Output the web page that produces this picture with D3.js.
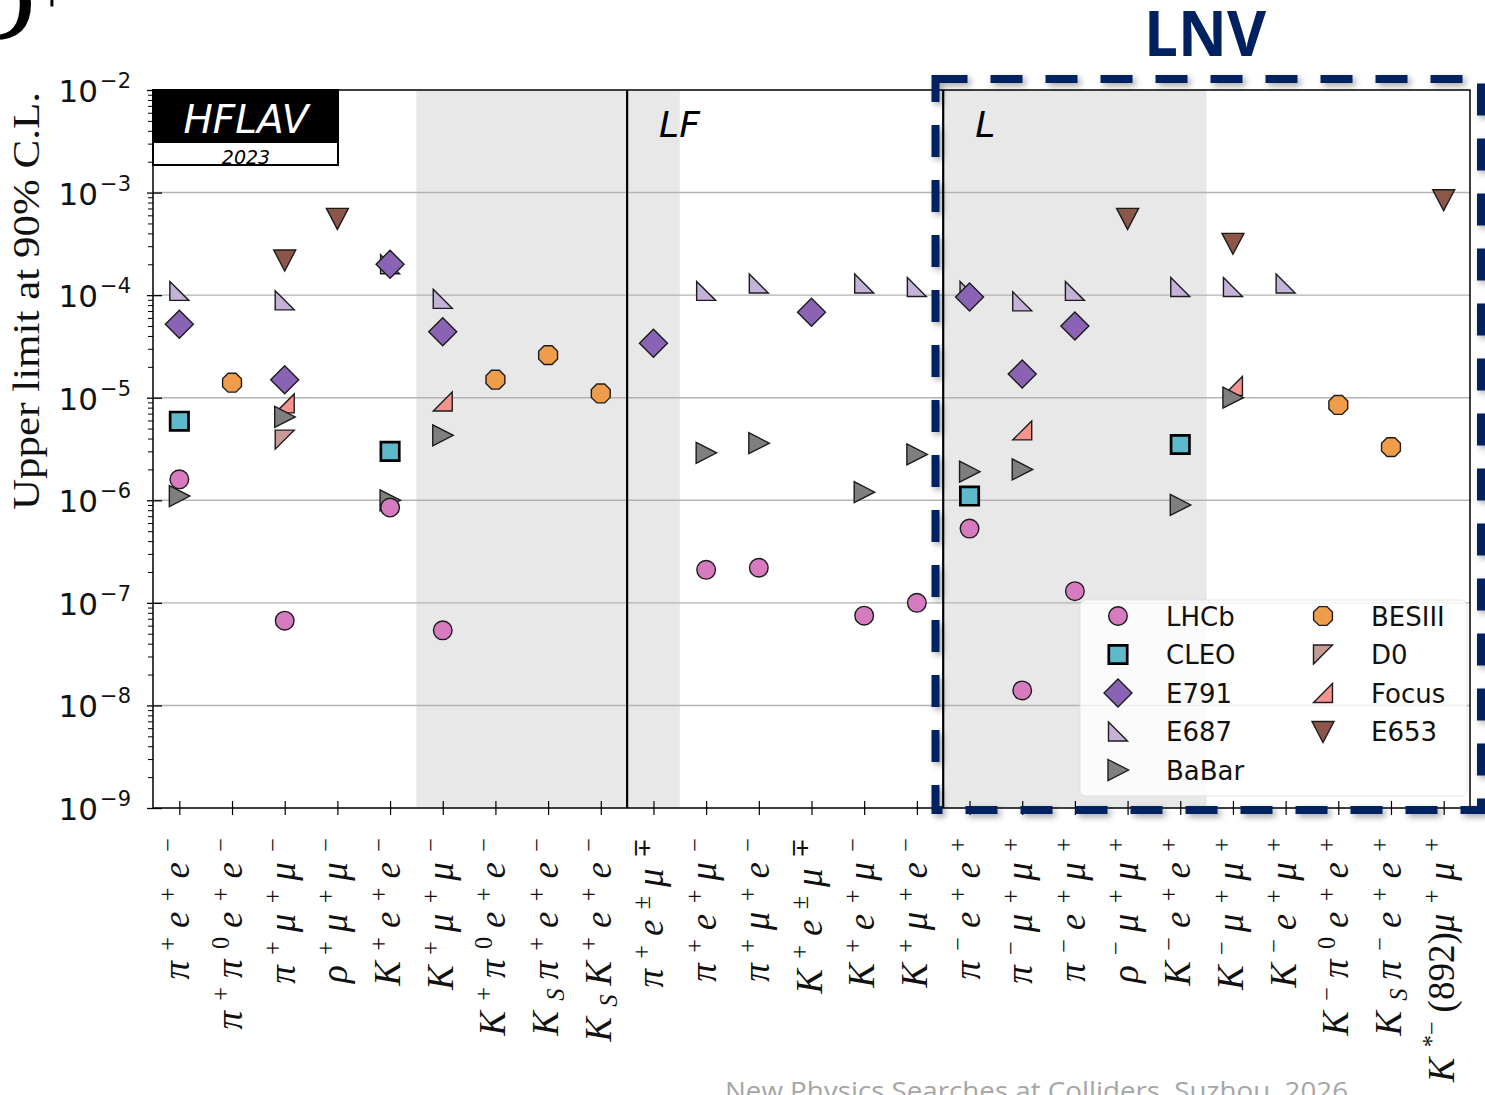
<!DOCTYPE html>
<html>
<head>
<meta charset="utf-8">
<script src="https://cdn.jsdelivr.net/npm/d3@7"></script>
<style>
  body { margin: 0; background: #fff; }
  svg { display: block; }
</style>
</head>
<body>
<script>
// Decay modes (x axis). ^{..} = superscript, _{..} = subscript.
const categories = [
  "π^{+}e^{+}e^{−}", "π^{+}π^{0}e^{+}e^{−}", "π^{+}μ^{+}μ^{−}", "ρ^{+}μ^{+}μ^{−}",
  "K^{+}e^{+}e^{−}", "K^{+}μ^{+}μ^{−}", "K^{+}π^{0}e^{+}e^{−}", "K_{S}π^{+}e^{+}e^{−}",
  "K_{S}K^{+}e^{+}e^{−}", "π^{+}e^{±}μ^{∓}", "π^{+}e^{+}μ^{−}", "π^{+}μ^{+}e^{−}",
  "K^{+}e^{±}μ^{∓}", "K^{+}e^{+}μ^{−}", "K^{+}μ^{+}e^{−}", "π^{−}e^{+}e^{+}",
  "π^{−}μ^{+}μ^{+}", "π^{−}e^{+}μ^{+}", "ρ^{−}μ^{+}μ^{+}", "K^{−}e^{+}e^{+}",
  "K^{−}μ^{+}μ^{+}", "K^{−}e^{+}μ^{+}", "K^{−}π^{0}e^{+}e^{+}", "K_{S}π^{−}e^{+}e^{+}",
  "K^{*−}(892)μ^{+}μ^{+}"
];

// Upper limits at 90% C.L., one entry per decay mode (null = no measurement)
//            0       1       2       3       4       5       6       7       8       9       10      11      12      13      14      15      16      17      18      19      20      21      22      23      24
const lhcb  = [1.6e-6, null,   6.7e-8, null,   8.5e-7, 5.4e-8, null,   null,   null,   null,   2.1e-7, 2.2e-7, null,   7.5e-8, 1.0e-7, 5.3e-7, 1.4e-8, 1.3e-7, null,   null,   null,   null,   null,   null,   null];
const cleo  = [5.9e-6, null,   null,   null,   3.0e-6, null,   null,   null,   null,   null,   null,   null,   null,   null,   null,   1.1e-6, null,   null,   null,   3.5e-6, null,   null,   null,   null,   null];
const e791  = [5.2e-5, null,   1.5e-5, null,   2.0e-4, 4.4e-5, null,   null,   null,   3.4e-5, null,   null,   6.8e-5, null,   null,   9.6e-5, 1.7e-5, 5.0e-5, null,   null,   null,   null,   null,   null,   null];
const e687  = [1.1e-4, null,   8.9e-5, null,   2.0e-4, 9.2e-5, null,   null,   null,   null,   1.1e-4, 1.3e-4, null,   1.3e-4, 1.2e-4, 1.1e-4, 8.7e-5, 1.1e-4, null,   1.2e-4, 1.2e-4, 1.3e-4, null,   null,   null];
const babar = [1.1e-6, null,   6.5e-6, null,   1.0e-6, 4.3e-6, null,   null,   null,   null,   2.9e-6, 3.6e-6, null,   1.2e-6, 2.8e-6, 1.9e-6, 2.0e-6, null,   null,   9.0e-7, 1.0e-5, null,   null,   null,   null];
const besiii= [null,   1.4e-5, null,   null,   null,   null,   1.5e-5, 2.6e-5, 1.1e-5, null,   null,   null,   null,   null,   null,   null,   null,   null,   null,   null,   null,   null,   8.5e-6, 3.3e-6, null];
const d0    = [null,   null,   3.9e-6, null,   null,   null,   null,   null,   null,   null,   null,   null,   null,   null,   null,   null,   null,   null,   null,   null,   null,   null,   null,   null,   null];
const focus = [null,   null,   8.8e-6, null,   null,   9.2e-6, null,   null,   null,   null,   null,   null,   null,   null,   null,   null,   4.8e-6, null,   null,   null,   1.3e-5, null,   null,   null,   null];
const e653  = [null,   null,   2.2e-4, 5.6e-4, null,   null,   null,   null,   null,   null,   null,   null,   null,   null,   null,   null,   null,   null,   5.6e-4, null,   3.2e-4, null,   null,   null,   8.5e-4];

// Experiments in legend order (two columns: first five, then four)
const experiments = [
  { name: "LHCb",   values: lhcb,   color: "#d67bbf", shape: "circle"  },
  { name: "CLEO",   values: cleo,   color: "#5eb9cb", shape: "square"  },
  { name: "E791",   values: e791,   color: "#8a63b5", shape: "diamond" },
  { name: "E687",   values: e687,   color: "#c4b2d8", shape: "triBL"   },
  { name: "BaBar",  values: babar,  color: "#7f7f7f", shape: "right"   },
  { name: "BESIII", values: besiii, color: "#ef9d4b", shape: "octagon" },
  { name: "D0",     values: d0,     color: "#c49c94", shape: "triTL"   },
  { name: "Focus",  values: focus,  color: "#f3958e", shape: "triBR"   },
  { name: "E653",   values: e653,   color: "#8c564b", shape: "down"    }
];

const yMajor = [1e-9, 1e-8, 1e-7, 1e-6, 1e-5, 1e-4, 1e-3, 1e-2];
const yMajorExp = [-9, -8, -7, -6, -5, -4, -3, -2];

// Shaded groups of decay modes and section boundaries
const shadedGroups = [[5, 8], [9, 9], [15, 19]];
const sectionStarts = [9, 15];
const sectionNames = ["LF", "L"];

const W = 1485, H = 1095;
const M = { left: 153, right: 1470, top: 90, bottom: 808 };

const svg = d3.select("body").append("svg").attr("width", W).attr("height", H);
const defs = svg.append("defs");
const shadow = defs.append("filter").attr("id", "shadow")
  .attr("x", "-10%").attr("y", "-10%").attr("width", "120%").attr("height", "120%");
shadow.append("feDropShadow").attr("dx", 3).attr("dy", 3).attr("stdDeviation", 3)
  .attr("flood-color", "#000").attr("flood-opacity", 0.35);

const x = d3.scalePoint().domain(d3.range(categories.length))
  .range([M.left, M.right]).padding(0.5);
const step = x.step();
const y = d3.scaleLog().domain([1e-9, 1e-2]).range([M.bottom, M.top]);

// ---- background shading
svg.append("g").selectAll("rect").data(shadedGroups).join("rect")
  .attr("x", d => x(d[0]) - step / 2)
  .attr("width", d => (d[1] - d[0] + 1) * step)
  .attr("y", M.top).attr("height", M.bottom - M.top)
  .attr("fill", "#e8e8e8");

// ---- horizontal grid
svg.append("g").selectAll("line").data(yMajor.slice(1, -1)).join("line")
  .attr("x1", M.left).attr("x2", M.right)
  .attr("y1", d => y(d)).attr("y2", d => y(d))
  .attr("stroke", "#b3b3b3").attr("stroke-width", 1.4);

// ---- section dividers
svg.append("g").selectAll("line").data(sectionStarts).join("line")
  .attr("x1", d => x(d) - step / 2).attr("x2", d => x(d) - step / 2)
  .attr("y1", M.top).attr("y2", M.bottom)
  .attr("stroke", "#000").attr("stroke-width", 2.2);

svg.append("g").selectAll("text").data(sectionStarts).join("text")
  .attr("x", d => x(d) - step / 2 + 32).attr("y", 137)
  .attr("font-family", "DejaVu Sans").attr("font-style", "italic")
  .attr("font-size", 36).text((d, i) => sectionNames[i]);

// ---- y axis
const minorTicks = [];
for (let e = -9; e < -2; e++) for (let k = 2; k <= 9; k++) minorTicks.push(k * Math.pow(10, e));

const yAxisMinor = svg.append("g").attr("transform", `translate(${M.left},0)`)
  .call(d3.axisLeft(y).tickValues(minorTicks).tickSize(5).tickFormat(() => ""));
yAxisMinor.select(".domain").remove();
yAxisMinor.selectAll("line").attr("stroke", "#000").attr("stroke-width", 1);

const yAxisMajor = svg.append("g").attr("transform", `translate(${M.left},0)`)
  .call(d3.axisLeft(y).tickValues(yMajor).tickSize(6).tickFormat(() => ""));
yAxisMajor.select(".domain").remove();
yAxisMajor.selectAll("line").attr("x1", 9).attr("stroke", "#000").attr("stroke-width", 1.3);

const yLabels = svg.append("g").selectAll("text").data(yMajor).join("text")
  .attr("x", 131).attr("y", d => y(d) + 12)
  .attr("text-anchor", "end")
  .attr("font-family", "DejaVu Sans").attr("font-size", 31).attr("fill", "#111");
yLabels.append("tspan").text("10");
yLabels.append("tspan").attr("dx", 2).attr("dy", -14).attr("font-size", 21)
  .text((d, i) => "−" + Math.abs(yMajorExp[i]));

// ---- x axis ticks
const xAxis = svg.append("g").attr("transform", `translate(0,${M.bottom})`)
  .call(d3.axisBottom(x).tickSize(7).tickFormat(() => ""));
xAxis.select(".domain").remove();
xAxis.selectAll("line").attr("y1", -7).attr("stroke", "#000").attr("stroke-width", 1.2);

// math-style label: base glyphs, superscripts and subscripts as tspans
function parseMarkup(s) {
  const out = [];
  let i = 0;
  while (i < s.length) {
    const c = s[i];
    if ((c === "^" || c === "_") && s[i + 1] === "{") {
      const j = s.indexOf("}", i);
      out.push({ t: s.slice(i + 2, j), mode: c === "^" ? "sup" : "sub" });
      i = j + 1;
    } else {
      out.push({ t: c, mode: "base" });
      i++;
    }
  }
  return out;
}
const isLetter = ch => /[A-Za-zα-ωπρμ]/.test(ch);

function drawMathLabel(sel, markup, F) {
  const toks = parseMarkup(markup);
  let cur = 0, prev = "base";
  toks.forEach(tok => {
    const target = tok.mode === "sup" ? -0.36 * F : tok.mode === "sub" ? 0.16 * F : 0;
    let dx = 0;
    if (tok.mode !== "base" && prev === "base") dx = 0.28 * F;
    if (tok.mode === "base" && prev !== "base") dx = 0.24 * F;
    if (tok.mode !== "base" && prev !== "base") dx = 0.06 * F;
    sel.append("tspan")
      .attr("dy", target - cur).attr("dx", dx)
      .attr("font-size", tok.mode === "base" ? F : 0.66 * F)
      .attr("font-style", (isLetter(tok.t) && tok.t.length === 1) ? "italic" : "normal")
      .text(tok.t);
    cur = target;
    prev = tok.mode;
  });
}

const xLabels = svg.append("g").selectAll("text").data(categories).join("text")
  .attr("transform", (d, i) => `translate(${x(i) + 10},838) rotate(-90)`)
  .attr("text-anchor", "end")
  .attr("font-family", "Liberation Serif").attr("fill", "#111");
xLabels.each(function (d) { drawMathLabel(d3.select(this), d, 37); });

// ---- markers
function markerPath(shape) {
  switch (shape) {
    case "circle":  return "M9.3,0A9.3,9.3 0 1,1 -9.3,0A9.3,9.3 0 1,1 9.3,0Z";
    case "square":  return "M-9.2,-9.2H9.2V9.2H-9.2Z";
    case "diamond": return "M0,-14L14,0L0,14L-14,0Z";
    case "triBL":   return "M-9.5,-9.5L9.5,9.5L-9.5,9.5Z";
    case "triTL":   return "M-9.5,-9.5L9.5,-9.5L-9.5,9.5Z";
    case "triBR":   return "M9.5,-9.5L9.5,9.5L-9.5,9.5Z";
    case "right":   return "M-10,-10.5L10.5,0L-10,10.5Z";
    case "down":    return "M-11,-10L11,-10L0,11Z";
    case "octagon": {
      const r = 10.2;
      const pts = d3.range(8).map(k => {
        const a = Math.PI / 8 + k * Math.PI / 4;
        return [r * Math.cos(a), r * Math.sin(a)];
      });
      return "M" + pts.map(p => p.join(",")).join("L") + "Z";
    }
  }
}
function styleMarker(sel, exp) {
  sel.attr("d", markerPath(exp.shape))
    .attr("fill", exp.color)
    .attr("stroke", exp.shape === "square" ? "#000" : "#1c1c1c")
    .attr("stroke-width", exp.shape === "square" ? 2.7 : 1.4)
    .attr("stroke-linejoin", "miter");
}

const markerLayer = svg.append("g");
experiments.slice().reverse().forEach(exp => {
  const pts = exp.values.map((v, i) => ({ i, v })).filter(d => d.v != null);
  markerLayer.append("g").selectAll("path").data(pts).join("path")
    .attr("transform", d => `translate(${x(d.i)},${y(d.v)})`)
    .call(sel => styleMarker(sel, exp));
});

// ---- frame
svg.append("rect").attr("x", M.left).attr("y", M.top)
  .attr("width", M.right - M.left).attr("height", M.bottom - M.top)
  .attr("fill", "none").attr("stroke", "#000").attr("stroke-width", 1.5);

// ---- HFLAV badge
const badge = svg.append("g");
badge.append("rect").attr("x", M.left).attr("y", M.top).attr("width", 185).attr("height", 75)
  .attr("fill", "#fff").attr("stroke", "#000").attr("stroke-width", 2);
badge.append("rect").attr("x", M.left).attr("y", M.top).attr("width", 185).attr("height", 53)
  .attr("fill", "#000");
badge.append("text").attr("x", M.left + 93).attr("y", 133).attr("text-anchor", "middle")
  .attr("font-family", "DejaVu Sans").attr("font-style", "italic").attr("font-size", 39)
  .attr("fill", "#fff").text("HFLAV");
badge.append("text").attr("x", M.left + 93).attr("y", 164).attr("text-anchor", "middle")
  .attr("font-family", "DejaVu Sans").attr("font-style", "italic").attr("font-size", 19)
  .attr("fill", "#000").text("2023");

// ---- legend
const legend = svg.append("g");
legend.append("rect").attr("x", 1080).attr("y", 600).attr("width", 387).attr("height", 196)
  .attr("rx", 6).attr("fill", "#fff").attr("fill-opacity", 0.8)
  .attr("stroke", "#e0e0e0").attr("stroke-opacity", 0.8);
experiments.forEach((exp, k) => {
  const col = k < 5 ? 0 : 1, row = k < 5 ? k : k - 5;
  const lx = 1118 + col * 205, ly = 616 + row * 38.5;
  legend.append("path").attr("transform", `translate(${lx},${ly})`).call(sel => styleMarker(sel, exp));
  legend.append("text").attr("x", lx + 48).attr("y", ly + 9.5)
    .attr("font-family", "DejaVu Sans").attr("font-size", 26).attr("fill", "#111")
    .text(exp.name);
});

// ---- y axis title
svg.append("text").attr("transform", `translate(39,301) rotate(-90)`)
  .attr("text-anchor", "middle")
  .attr("font-family", "Liberation Serif").attr("font-size", 37)
  .attr("textLength", 418).attr("lengthAdjust", "spacingAndGlyphs")
  .attr("fill", "#111").text("Upper limit at 90% C.L.");

// ---- LNV highlight box
svg.append("path")
  .attr("d", "M935.5,79H1481V810H935.5Z")
  .attr("fill", "none").attr("stroke", "#002060").attr("stroke-width", 8)
  .attr("stroke-dasharray", "32 23").attr("filter", "url(#shadow)");
svg.append("text").attr("x", 1205).attr("y", 56).attr("text-anchor", "middle")
  .attr("font-family", "Open Sans").attr("font-weight", "bold").attr("font-size", 62)
  .attr("textLength", 122).attr("lengthAdjust", "spacingAndGlyphs")
  .attr("fill", "#002060").text("LNV");

// ---- slide title fragment and footer
svg.append("text").attr("x", -44).attr("y", 40)
  .attr("font-family", "Liberation Serif").attr("font-size", 110).attr("fill", "#000").text("D");
svg.append("text").attr("x", 52).attr("y", 12).attr("text-anchor", "middle")
  .attr("font-family", "Liberation Serif").attr("font-size", 60).attr("fill", "#000").text("+");
svg.append("text").attr("x", 725).attr("y", 1100)
  .attr("font-family", "Open Sans").attr("font-size", 26).attr("fill", "#a6a6a6")
  .attr("textLength", 623).attr("lengthAdjust", "spacingAndGlyphs")
  .text("New Physics Searches at Colliders, Suzhou, 2026");
</script>
</body>
</html>
